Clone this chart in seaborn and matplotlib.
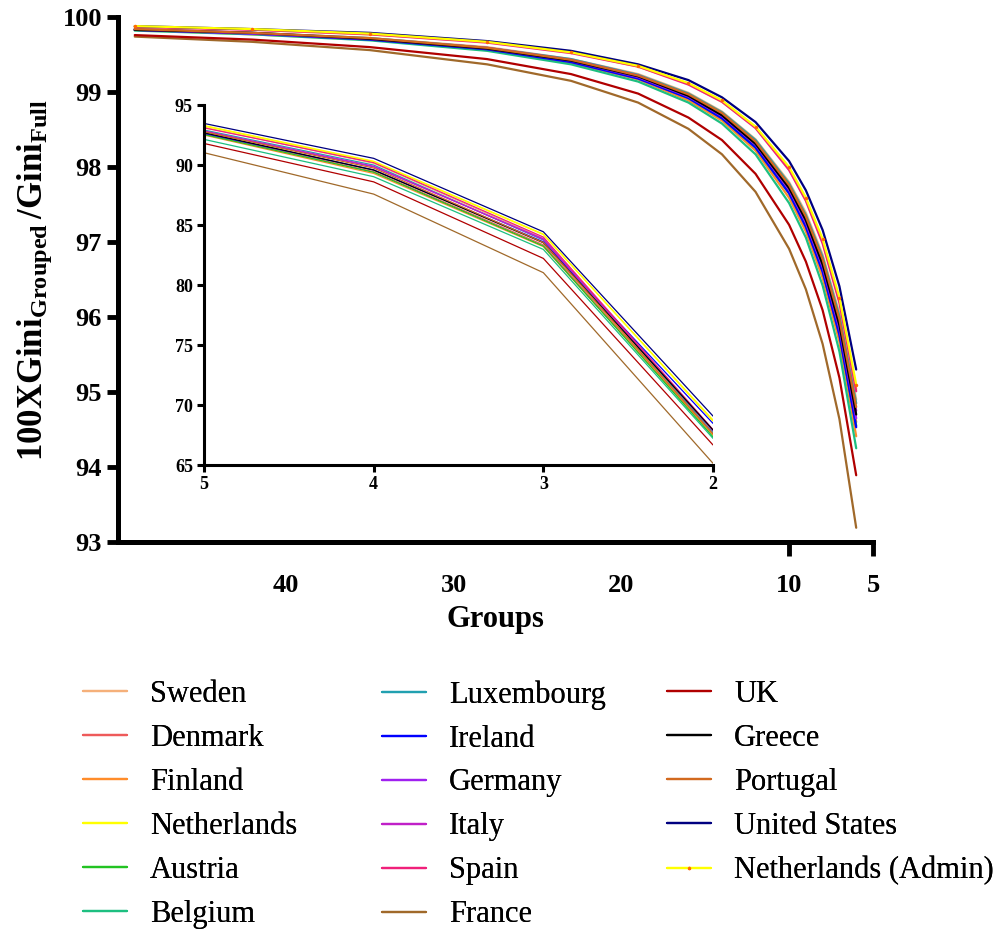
import pandas as pd
import seaborn as sns
import matplotlib.pyplot as plt

# x values (number of groups)
groups = [49, 42, 35, 28, 23, 19, 16, 14, 12, 10, 9, 8, 7, 6]
groups_small = [5, 4, 3, 2]

countries = ["Sweden", "Denmark", "Finland", "Netherlands", "Austria", "Belgium",
             "Luxembourg", "Ireland", "Germany", "Italy", "Spain", "France",
             "UK", "Greece", "Portugal", "United States", "Netherlands (Admin)"]
colors = ["#F5B07A", "#EE5A5A", "#FF8C2A", "#FFFF00", "#22C322", "#1DBF80",
          "#21A0B0", "#0000FF", "#A020F0", "#C020C8", "#F0207A", "#A0692A",
          "#B00000", "#000000", "#D2691E", "#000080", "#FFFF00"]

# main panel values (100 x Gini_grouped / Gini_full)
sweden = [99.84, 99.79, 99.72, 99.60, 99.44, 99.24, 98.99, 98.74, 98.37, 97.80, 97.39, 96.83, 96.05, 94.90]
denmark = [99.83, 99.78, 99.71, 99.57, 99.41, 99.19, 98.93, 98.67, 98.28, 97.68, 97.23, 96.64, 95.81, 94.60]
finland = [99.83, 99.77, 99.70, 99.56, 99.39, 99.17, 98.89, 98.62, 98.22, 97.59, 97.14, 96.52, 95.67, 94.41]
netherlands = [99.87, 99.84, 99.77, 99.67, 99.53, 99.34, 99.11, 98.87, 98.53, 97.97, 97.56, 97.00, 96.21, 95.04]
austria = [99.83, 99.78, 99.70, 99.57, 99.41, 99.19, 98.92, 98.65, 98.26, 97.65, 97.21, 96.61, 95.77, 94.55]
belgium = [99.82, 99.77, 99.69, 99.55, 99.37, 99.14, 98.86, 98.58, 98.17, 97.52, 97.06, 96.42, 95.54, 94.25]
luxembourg = [99.84, 99.79, 99.72, 99.59, 99.44, 99.23, 98.98, 98.73, 98.36, 97.78, 97.36, 96.80, 96.01, 94.85]
ireland = [99.83, 99.78, 99.70, 99.57, 99.40, 99.18, 98.92, 98.65, 98.26, 97.65, 97.20, 96.60, 95.76, 94.53]
germany = [99.83, 99.78, 99.71, 99.58, 99.42, 99.20, 98.94, 98.68, 98.30, 97.70, 97.26, 96.67, 95.85, 94.65]
italy = [99.84, 99.79, 99.71, 99.59, 99.43, 99.22, 98.96, 98.70, 98.33, 97.74, 97.31, 96.73, 95.93, 94.75]
spain = [99.87, 99.83, 99.77, 99.66, 99.52, 99.34, 99.10, 98.87, 98.52, 97.96, 97.55, 96.98, 96.19, 95.01]
france = [99.74, 99.67, 99.56, 99.37, 99.15, 98.86, 98.51, 98.17, 97.67, 96.91, 96.37, 95.64, 94.64, 93.19]
uk = [99.76, 99.70, 99.60, 99.44, 99.24, 98.98, 98.66, 98.36, 97.91, 97.23, 96.74, 96.09, 95.19, 93.89]
greece = [99.83, 99.79, 99.71, 99.58, 99.42, 99.21, 98.95, 98.69, 98.31, 97.72, 97.29, 96.70, 95.89, 94.70]
portugal = [99.84, 99.79, 99.72, 99.59, 99.43, 99.22, 98.97, 98.72, 98.34, 97.76, 97.34, 96.77, 95.97, 94.80]
usa = [99.88, 99.84, 99.79, 99.68, 99.55, 99.37, 99.16, 98.93, 98.60, 98.08, 97.69, 97.16, 96.41, 95.30]
nl_admin = [99.88, 99.84, 99.78, 99.67, 99.53, 99.35, 99.12, 98.89, 98.54, 98.00, 97.59, 97.04, 96.26, 95.10]

# inset values for 5, 4, 3, 2 groups
sweden_s = [93.15, 90.15, 83.90, 67.80]
denmark_s = [92.60, 89.45, 83.35, 67.55]
finland_s = [92.50, 89.30, 83.20, 67.50]
netherlands_s = [93.25, 90.28, 84.20, 68.75]
austria_s = [92.55, 89.40, 83.25, 67.35]
belgium_s = [92.14, 89.03, 82.97, 67.22]
luxembourg_s = [92.92, 90.00, 83.75, 67.70]
ireland_s = [92.65, 89.60, 83.60, 68.47]
germany_s = [92.80, 89.85, 83.85, 67.85]
italy_s = [92.85, 89.90, 83.80, 67.90]
spain_s = [93.10, 90.20, 84.00, 67.95]
france_s = [91.03, 87.58, 81.03, 65.14]
uk_s = [91.80, 88.60, 82.22, 66.67]
greece_s = [92.70, 89.58, 83.53, 67.92]
portugal_s = [92.78, 89.75, 83.55, 67.60]
usa_s = [93.47, 90.56, 84.44, 69.08]
nl_admin_s = [93.30, 90.32, 84.25, 68.65]

main_series = [sweden, denmark, finland, netherlands, austria, belgium, luxembourg,
               ireland, germany, italy, spain, france, uk, greece, portugal, usa, nl_admin]
small_series = [sweden_s, denmark_s, finland_s, netherlands_s, austria_s, belgium_s,
                luxembourg_s, ireland_s, germany_s, italy_s, spain_s, france_s, uk_s,
                greece_s, portugal_s, usa_s, nl_admin_s]

sns.set_style("ticks")
plt.rcParams['font.family'] = ['Liberation Serif', 'DejaVu Serif']
plt.rcParams['mathtext.fontset'] = 'custom'
plt.rcParams['mathtext.rm'] = 'Liberation Serif'
plt.rcParams['mathtext.bf'] = 'Liberation Serif:bold'
for k in ['text.color', 'axes.labelcolor', 'xtick.color', 'ytick.color', 'axes.edgecolor']:
    plt.rcParams[k] = 'black'

fig = plt.figure(figsize=(10.04, 9.34), dpi=100)
ax = fig.add_axes([0.1175, 0.4197, 0.752, 0.562])
axin = fig.add_axes([0.2032, 0.5021, 0.5070, 0.3854])
axin.set_facecolor('none')

for name, col, vals, vals_s in zip(countries, colors, main_series, small_series):
    extra = {}
    if name == "Netherlands (Admin)":
        extra = dict(marker='o', markersize=2.5, markerfacecolor='#FF6A00',
                     markeredgewidth=0)
    df = pd.DataFrame({'groups': groups, 'value': vals})
    sns.lineplot(data=df, x='groups', y='value', color=col, linewidth=1.6,
                 label=name, sort=False, ax=ax, **extra)
    ds = pd.DataFrame({'groups': groups_small, 'value': vals_s})
    sns.lineplot(data=ds, x='groups', y='value', color=col, linewidth=0.9,
                 sort=False, ax=axin, legend=False)

handles, labels = ax.get_legend_handles_labels()
ax.get_legend().remove()

# main axes
ax.set_xlim(50, 5)
ax.set_ylim(93, 100)
ax.set_xticks([40, 30, 20, 10, 5])
ax.set_yticks(range(93, 101))
for t in ax.xaxis.get_major_ticks()[:3]:
    t.tick1line.set_visible(False)
ax.tick_params(axis='both', width=3.5, length=8, labelsize=19, direction='out')
ax.tick_params(axis='x', length=10, pad=13)
for lab in ax.get_xticklabels() + ax.get_yticklabels():
    lab.set_fontweight('bold')
sns.despine(ax=ax)
for s in ['left', 'bottom']:
    ax.spines[s].set_linewidth(3.6)
ax.set_xlabel("Groups", fontsize=22, fontweight='bold', labelpad=6)
ax.set_ylabel(r'$\mathbf{100XGini_{Grouped}\,/Gini_{Full}}$', fontsize=25, labelpad=6)

# inset axes
axin.set_xlim(5, 2)
axin.set_ylim(65, 95)
axin.set_xticks([5, 4, 3, 2])
axin.set_yticks([65, 70, 75, 80, 85, 90, 95])
axin.tick_params(axis='both', width=2.2, length=5, labelsize=13, pad=3)
for lab in axin.get_xticklabels() + axin.get_yticklabels():
    lab.set_fontweight('bold')
sns.despine(ax=axin)
for s in ['left', 'bottom']:
    axin.spines[s].set_linewidth(2.2)
axin.set_xlabel("")
axin.set_ylabel("")

# legend in three columns
col_x = [0.070, 0.368, 0.652]
chunks = [(0, 6), (6, 12), (12, 17)]
for cx, (a, b) in zip(col_x, chunks):
    leg = fig.legend(handles[a:b], labels[a:b], loc='upper left',
                     bbox_to_anchor=(cx, 0.2850), frameon=False, fontsize=22,
                     handlelength=1.45, handletextpad=0.75, labelspacing=0.49,
                     borderaxespad=0)
    fig.add_artist(leg)

fig.savefig("out.png", dpi=100)
